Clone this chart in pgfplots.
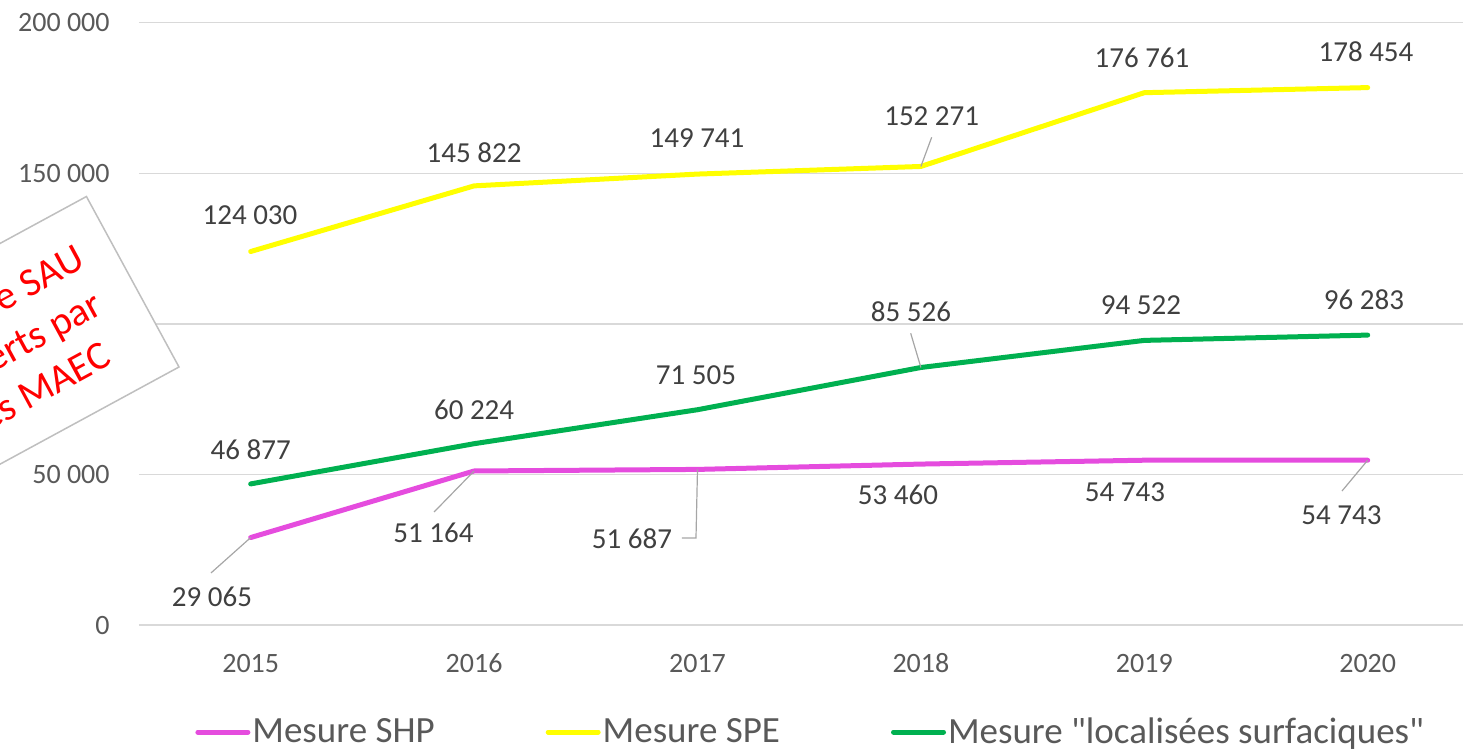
\documentclass[border=0pt]{standalone}
\usepackage{pgfplots}
\pgfplotsset{compat=1.18}
\usepackage{fontspec}
\setmainfont{Carlito}[Ligatures=TeXOff]
\definecolor{shp}{HTML}{E54CDE}
\definecolor{spe}{HTML}{FFFF00}
\definecolor{loc}{HTML}{00B050}
\definecolor{gridc}{HTML}{D9D9D9}
\definecolor{tickc}{HTML}{595959}
\definecolor{labc}{HTML}{404040}
\definecolor{leadc}{HTML}{A6A6A6}
\definecolor{boxc}{HTML}{BFBFBF}
\pgfkeys{/pgf/number format/.cd, assume math mode=true, 1000 sep={\ }, fixed}
\begin{document}
\begin{tikzpicture}
\begin{axis}[
  at={(69.5pt,62.45pt)}, anchor=south west,
  scale only axis, width=670.2pt, height=301.2pt,
  xmin=-0.5, xmax=5.5, ymin=0, ymax=200000,
  xtick={0,1,2,3,4,5}, xticklabels={2015,2016,2017,2018,2019,2020},
  ytick={0,50000,100000,150000,200000},
  scaled y ticks=false,
  axis line style={draw=none}, major tick length=0pt,
  ymajorgrids, grid style={gridc, line width=0.75pt},
  tick label style={font=\fontsize{14}{16}\selectfont, text=tickc, inner sep=0pt},
  yticklabel style={anchor=east, xshift=-14.5pt},
  xticklabel style={anchor=center, yshift=-19pt},
  clip=false,
  legend columns=3,
  legend style={at={(0.04178,-0.1775)}, anchor=west, draw=none, fill=none,
    inner sep=0pt, font=\fontsize{18.5}{20}\selectfont, text=tickc,
    nodes={inner sep=0pt},
    /tikz/every odd column/.append style={column sep=1pt},
    /tikz/every even column/.append style={column sep=55.5pt}},
  legend image code/.code={\draw[#1, line width=2.5pt] (0pt,0pt) -- (25pt,0pt);},
  every axis plot/.append style={line width=2.5pt, line cap=round, line join=round, mark=none},
  visualization depends on={value \thisrow{dx} \as \mydx},
  visualization depends on={value \thisrow{dy} \as \mydy},
  every node near coord/.append style={anchor=center, inner sep=0pt,
    xshift=\mydx pt, yshift=\mydy pt, font=\fontsize{14.5}{17}\selectfont, text=labc},
]
\addplot[shp, nodes near coords, point meta=y] table {
x y dx dy
0 29065 -19.35 -29.7
1 51164 -20.3 -31
2 51687 -32.75 -34.8
3 53460 -11.45 -15.45
4 54743 -9.65 -15.9
5 54743 -13.1 -27.4
};
\addlegendentry{Mesure SHP}
\addplot[spe, nodes near coords, point meta=y] table {
x y dx dy
0 124030 -0.35 18.25
1 145822 0 16.45
2 149741 -0.25 18.05
3 152271 5.4 25.25
4 176761 -1.15 17.35
5 178454 -0.85 17.8
};
\addlegendentry{Mesure SPE}
\addplot[loc, nodes near coords, point meta=y] table {
x y dx dy
0 46877 0 16.95
1 60224 0 16.85
2 71505 -0.75 17.35
3 85526 -4.95 27.75
4 94522 -1.65 17.7
5 96283 -1.85 17.55
};
\addlegendentry{Mesure "localisées surfaciques"}
% leader lines
\draw[leadc, line width=0.6pt] (axis cs:0,29065) -- ++(-19.85pt,-17.7pt);
\draw[leadc, line width=0.6pt] (axis cs:1,51164) -- ++(-20pt,-20.5pt);
\draw[leadc, line width=0.6pt] (axis cs:2,51687) -- ++(-0.75pt,-34.3pt) -- ++(-7pt,0pt);
\draw[leadc, line width=0.6pt] (axis cs:3,152271) -- ++(5.4pt,14.6pt);
\draw[leadc, line width=0.6pt] (axis cs:3,85526) -- ++(-5.1pt,17.1pt);
\draw[leadc, line width=0.6pt] (axis cs:5,54743) -- ++(-12.85pt,-15.4pt);
\end{axis}
\begin{scope}[shift={(89.5pt,191.5pt)}, rotate=28.5]
  \draw[boxc, fill=white, line width=0.75pt] (-300pt,0pt) rectangle (0pt,97pt);
  \node[transform shape, anchor=east, align=right, text=red, font=\fontsize{20}{24.5}\selectfont, inner sep=0pt]
    at (-16.5pt,48.5pt) {Hectares de SAU\\couverts par\rule{3pt}{0pt}\\des MAEC\rule{11.5pt}{0pt}};
\end{scope}
\pgfresetboundingbox
\useasboundingbox (0pt,0pt) rectangle (731.5pt,375pt);
\end{tikzpicture}
\end{document}
